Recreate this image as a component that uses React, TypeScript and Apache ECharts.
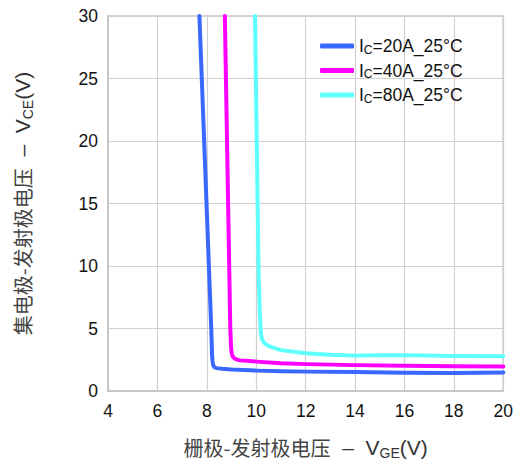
import React, { useEffect, useRef } from "react";
import * as echarts from "echarts";

const seriesNames = ["IC=20A_25°C", "IC=40A_25°C", "IC=80A_25°C"];
const currents = ["20A", "40A", "80A"];

const ic20: [number, number][] = [
  [7.7, 30], [8.18, 5], [8.21, 3], [8.23, 2.4], [8.26, 2.05], [8.31, 1.9], [8.4, 1.83],
  [8.6, 1.78], [9, 1.72], [10, 1.63], [11, 1.58], [12, 1.55], [14, 1.52], [16, 1.46], [18, 1.45], [20, 1.48],
];
const ic40: [number, number][] = [
  [8.73, 30], [8.95, 5], [8.98, 3.5], [9.01, 3.0], [9.05, 2.75], [9.12, 2.6], [9.22, 2.51],
  [9.35, 2.45], [10, 2.35], [11, 2.22], [12, 2.15], [14, 2.07], [16, 2.02], [18, 1.98], [20, 1.97],
];
const ic80: [number, number][] = [
  [9.95, 30], [10.1, 9], [10.15, 6], [10.19, 4.6], [10.23, 4.2], [10.3, 3.9], [10.4, 3.72],
  [10.6, 3.52], [11, 3.27], [12, 3.02], [13, 2.9], [14, 2.83], [15, 2.86], [16, 2.87], [18, 2.8], [20, 2.79],
];

const xTicks = { min: 4, max: 20, interval: 2 };
const yTicks = { min: 0, max: 30, interval: 5 };

const colors = ["#3a68ff", "#ff00ff", "#5effff"];
const LATIN = "'Liberation Sans', Arial, sans-serif";
const CJK = "'Noto Sans CJK SC', sans-serif";

const titleRich = {
  c: { fontSize: 20, color: "#444", fontFamily: CJK, lineHeight: 26 },
  n: { fontSize: 21, color: "#333", fontFamily: LATIN, lineHeight: 26 },
  s: { fontSize: 14, color: "#333", fontFamily: LATIN, verticalAlign: "bottom", lineHeight: 17 },
};

export default function App() {
  const ref = useRef<HTMLDivElement>(null);
  useEffect(() => {
    if (!ref.current) return;
    const chart = echarts.init(ref.current, null, { renderer: "svg" });
    const datasets = [ic20, ic40, ic80];
    const option: any = {
      animation: false,
      backgroundColor: "#ffffff",
      textStyle: { fontFamily: LATIN },
      grid: {
        left: 108, right: 12, top: 16, bottom: 73,
        show: true, borderColor: "#c4c4c4", borderWidth: 1.5,
      },
      legend: {
        orient: "vertical",
        left: 315,
        top: 32,
        icon: "roundRect",
        itemWidth: 34,
        itemHeight: 5,
        itemGap: 6,
        itemTextGap: 9,
        data: seriesNames,
        formatter: (name: string) => {
          const i = seriesNames.indexOf(name);
          return `{a|I}{s|C}{a|=${currents[i]}_25°C}`;
        },
        textStyle: {
          fontFamily: LATIN,
          rich: {
            a: { fontSize: 17.5, color: "#111", fontFamily: LATIN, lineHeight: 19 },
            s: { fontSize: 12, color: "#111", fontFamily: LATIN, verticalAlign: "bottom", lineHeight: 13 },
          },
        },
      },
      xAxis: {
        type: "value",
        min: xTicks.min, max: xTicks.max, interval: xTicks.interval,
        axisLine: { show: true, lineStyle: { color: "#c4c4c4", width: 1.5 } },
        axisTick: { show: false },
        axisLabel: { fontSize: 17.5, color: "#111", margin: 11, fontFamily: LATIN },
        splitLine: { show: true, lineStyle: { color: "#d0d0d0", width: 1.2 } },
        name: "{c|栅极-发射极电压}{n|  –  V}{s|GE}{n|(V)}",
        nameLocation: "middle",
        nameGap: 43,
        nameTextStyle: { rich: titleRich },
      },
      yAxis: {
        type: "value",
        min: yTicks.min, max: yTicks.max, interval: yTicks.interval,
        axisLine: { show: true, lineStyle: { color: "#c4c4c4", width: 1.5 } },
        axisTick: { show: false },
        axisLabel: { fontSize: 17.5, color: "#111", margin: 10, fontFamily: LATIN },
        splitLine: { show: true, lineStyle: { color: "#d0d0d0", width: 1.2 } },
        name: "{c|集电极-发射极电压}{n|  –  V}{s|CE}{n|(V)}",
        nameLocation: "middle",
        nameGap: 73,
        nameTextStyle: { rich: titleRich },
      },
      series: seriesNames.map((name, i) => ({
        name,
        type: "line",
        data: datasets[i],
        showSymbol: false,
        symbol: "none",
        smooth: false,
        color: colors[i],
        lineStyle: { color: colors[i], width: 4, join: "round", cap: "round" },
        clip: true,
      })),
    };
    chart.setOption(option);
    return () => chart.dispose();
  }, []);
  return (
    <div
      ref={ref}
      style={{ position: "absolute", left: 0, top: 0, width: 516, height: 465 }}
    />
  );
}
